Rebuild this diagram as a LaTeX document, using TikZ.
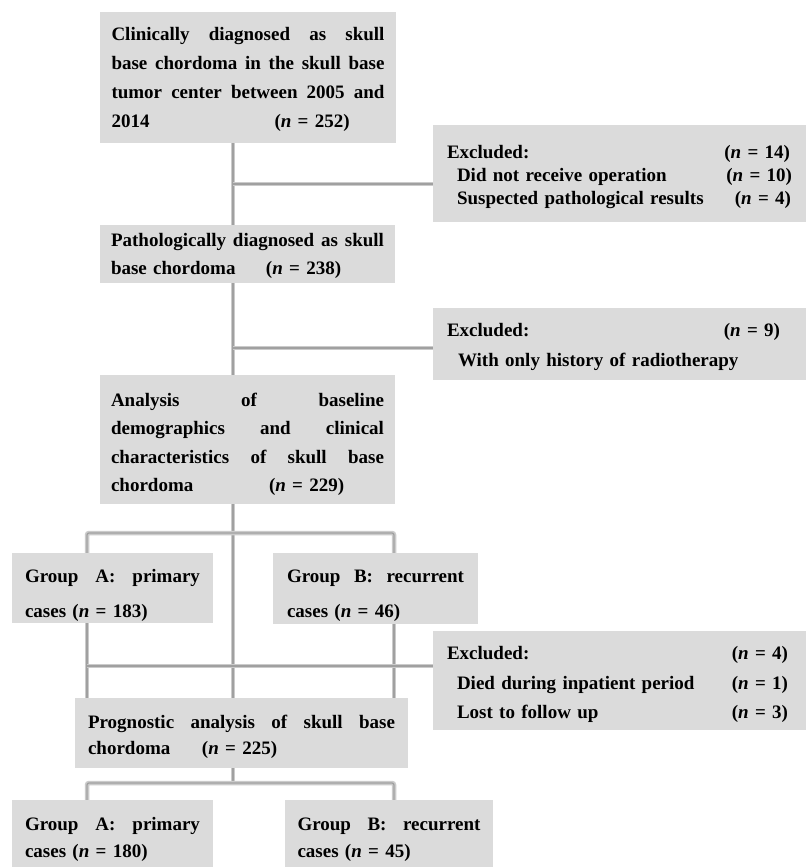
\documentclass[tikz,border=0pt]{standalone}
\usepackage{fontspec}
\setmainfont{Liberation Serif}
\definecolor{boxgray}{RGB}{219,219,219}
\definecolor{lineout}{RGB}{203,203,203}
\definecolor{linein}{RGB}{160,160,160}
\newcommand\jl[2]{\makebox[#1][l]{#2}}
\newcommand\nn[1]{(\textit{n}~=~#1)}
\tikzset{
  box/.style={fill=boxgray, inner sep=0pt, anchor=center},
  txt/.style={inner sep=0pt, anchor=center, align=left, text=black},
  conn/.style={line width=4.5pt, draw=lineout, rounded corners=2pt,
    postaction={draw=linein, line width=1.3pt, rounded corners=2pt}},
}
\begin{document}
\begin{tikzpicture}[x=1pt,y=-1pt]
\useasboundingbox (0,0) rectangle (806,867);
\fill[white] (0,0) rectangle (806,867);

% boxes
\node[box, minimum width=296, minimum height=131] (b1) at (248,77.5) {};
\node[box, minimum width=373, minimum height=97] (ex1) at (619.5,173.5) {};
\node[box, minimum width=295, minimum height=58] (b2) at (247.5,254) {};
\node[box, minimum width=373, minimum height=72] (ex2) at (619.5,344) {};
\node[box, minimum width=295, minimum height=129] (b3) at (247.5,439.5) {};
\node[box, minimum width=201, minimum height=70] (gA) at (112.5,588) {};
\node[box, minimum width=205, minimum height=71] (gB) at (375.5,588.5) {};
\node[box, minimum width=373, minimum height=99] (ex3) at (619.5,680.5) {};
\node[box, minimum width=333, minimum height=70] (prog) at (241.5,733) {};
\node[box, minimum width=201, minimum height=67] (gA2) at (112.5,833.5) {};
\node[box, minimum width=208, minimum height=67] (gB2) at (389,833.5) {};

% texts
\node[txt, text width=273, font=\bfseries\fontsize{19}{29}\selectfont] (t1)
  at ([yshift=-2pt]b1.center)
  {\jl{273pt}{Clinically\hfill diagnosed\hfill as\hfill skull}\\
   \jl{273pt}{base\hfill chordoma\hfill in\hfill the\hfill skull\hfill base}\\
   \jl{273pt}{tumor\hfill center\hfill between\hfill 2005\hfill and}\\
   \makebox[163pt][l]{2014}\nn{252}};

\node[txt, text width=345, font=\bfseries\fontsize{19}{23}\selectfont] (tx1)
  at ([yshift=-4pt]ex1.center)
  {\makebox[345pt][l]{Excluded:\hfill\nn{14}\hspace*{2pt}}\\
   \makebox[345pt][l]{\hspace*{10pt}Did not receive operation\hfill\nn{10}}\\
   \makebox[345pt][l]{\hspace*{10pt}Suspected pathological results\hfill\nn{4}\hspace*{1pt}}};

\node[txt, text width=273, font=\bfseries\fontsize{19}{28}\selectfont] (t2)
  at ([yshift=-2pt]b2.center)
  {\jl{273pt}{Pathologically\hfill diagnosed\hfill as\hfill skull}\\
   \makebox[155pt][l]{base chordoma}\nn{238}};

\node[txt, text width=345, font=\bfseries\fontsize{19}{30}\selectfont] (tx2)
  at ([yshift=-3pt]ex2.center)
  {\makebox[345pt][l]{Excluded:\hfill\nn{9}\hspace*{12pt}}\\
   \makebox[345pt][l]{\hspace*{11pt}With only history of radiotherapy}};

\node[txt, text width=273, font=\bfseries\fontsize{19}{28.5}\selectfont] (t3)
  at ([yshift=-5pt]b3.center)
  {\jl{273pt}{Analysis\hfill of\hfill baseline}\\
   \jl{273pt}{demographics\hfill and\hfill clinical}\\
   \jl{273pt}{characteristics\hfill of\hfill skull\hfill base}\\
   \makebox[158pt][l]{chordoma}\nn{229}};

\node[txt, text width=175, font=\bfseries\fontsize{19}{35}\selectfont] (tgA)
  at ([yshift=-7pt]gA.center)
  {\jl{175pt}{Group\hfill A:\hfill primary}\\
   cases \nn{183}};

\node[txt, text width=177, font=\bfseries\fontsize{19}{35}\selectfont] (tgB)
  at ([yshift=-7pt]gB.center)
  {\jl{177pt}{Group\hfill B:\hfill recurrent}\\
   cases \nn{46}};

\node[txt, text width=345, font=\bfseries\fontsize{19}{29.5}\selectfont] (tx3)
  at ([yshift=-4pt]ex3.center)
  {\makebox[345pt][l]{Excluded:\hfill\nn{4}\hspace*{4pt}}\\
   \makebox[345pt][l]{\hspace*{10pt}Died during inpatient period\hfill\nn{1}\hspace*{4pt}}\\
   \makebox[345pt][l]{\hspace*{10pt}Lost to follow up\hfill\nn{3}\hspace*{4pt}}};

\node[txt, text width=307, font=\bfseries\fontsize{19}{26}\selectfont] (tp)
  at ([yshift=-4pt]prog.center)
  {\jl{307pt}{Prognostic\hfill analysis\hfill of\hfill skull\hfill base}\\
   \makebox[114pt][l]{chordoma}\nn{225}};

\node[txt, text width=175, font=\bfseries\fontsize{19}{27}\selectfont] (tgA2)
  at ([yshift=-6pt]gA2.center)
  {\jl{175pt}{Group\hfill A:\hfill primary}\\
   cases \nn{180}};

\node[txt, text width=183, font=\bfseries\fontsize{19}{27}\selectfont] (tgB2)
  at ([yshift=-6pt]gB2.center)
  {\jl{183pt}{Group\hfill B:\hfill recurrent}\\
   cases \nn{45}};

% connectors
\coordinate (sp) at (233,0);
\coordinate (xa) at (87,0);
\coordinate (xb) at (394,0);
\coordinate (j1) at (233,184);
\coordinate (j2) at (233,348);
\coordinate (j3) at (233,533);
\coordinate (j4) at (233,666);
\coordinate (j5) at (233,783);

\draw[conn] (b1.south -| sp) -- (b2.north -| sp);
\draw[conn] (j1) -- (j1 -| ex1.west);
\draw[conn] (b2.south -| sp) -- (b3.north -| sp);
\draw[conn] (j2) -- (j2 -| ex2.west);
\draw[conn] (b3.south -| sp) -- (prog.north -| sp);
\draw[conn] (gA.north -| xa) -- (j3 -| xa) -- (j3 -| xb) -- (gB.north -| xb);
\draw[conn] (gA.south -| xa) -- (prog.north -| xa);
\draw[conn] (gB.south -| xb) -- (prog.north -| xb);
\draw[conn] (j4 -| xa) -- (j4 -| ex3.west);
\draw[conn] (prog.south -| sp) -- (j5);
\draw[conn] (gA2.north -| xa) -- (j5 -| xa) -- (j5 -| xb) -- (gB2.north -| xb);
\end{tikzpicture}
\end{document}
